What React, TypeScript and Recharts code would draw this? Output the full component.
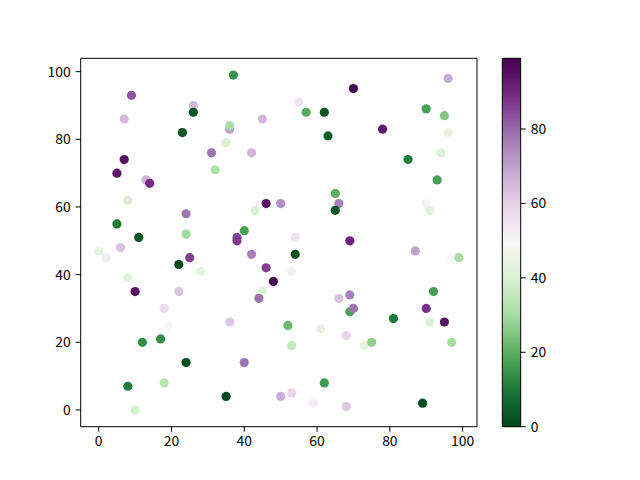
import { ScatterChart, Scatter, XAxis, YAxis, ReferenceArea, ComposedChart } from 'recharts';

// point positions and colour values
const xValues = [
  37, 9, 26, 26, 7, 45, 23, 36, 36, 35, 31, 42, 7, 5, 32, 13, 14, 8, 46, 50,
  43, 24, 5, 24, 40, 11,
  96, 70, 55, 57, 62, 90, 95, 78, 96, 63, 94, 85, 93, 65, 66, 65, 90, 91, 54, 69,
  54, 87, 97, 99, 53, 66, 69, 69, 70, 92, 90, 95, 91, 81, 52, 61, 68, 53, 73, 75,
  97, 62, 53, 59, 68, 89, 50,
  0, 2, 6, 25, 22, 28, 8, 10, 22, 18, 19, 12, 17, 36, 24, 40, 8, 18, 10, 35,
  38, 38, 42, 46, 48, 45, 44,
];
const yValues = [
  99, 93, 90, 88, 86, 86, 82, 83, 84, 79, 76, 76, 74, 70, 71, 68, 67, 62, 61, 61,
  59, 58, 55, 52, 53, 51,
  98, 95, 91, 88, 88, 89, 87, 83, 82, 81, 76, 74, 68, 64, 61, 59, 61, 59, 51, 50,
  46, 47, 45, 45, 41, 33, 34, 29, 30, 35, 30, 26, 26, 27, 25, 24, 22, 19, 19, 20,
  20, 8, 5, 2, 1, 2, 4,
  47, 45, 48, 45, 43, 41, 39, 35, 35, 30, 25, 20, 21, 26, 14, 14, 7, 8, 0, 4,
  51, 50, 46, 42, 38, 35, 33,
];
const cValues = [
  15, 83, 65, 3, 65, 65, 4, 70, 30, 40, 78, 66, 95, 94, 32, 66, 89, 40, 95, 73,
  40, 78, 10, 29, 17, 3,
  68, 98, 55, 19, 3, 17, 25, 93, 44, 5, 41, 11, 17, 20, 76, 3, 51, 42, 55, 91,
  2, 70, 50, 30, 47, 63, 76, 17, 78, 17, 88, 95, 41, 10, 22, 43, 59, 36, 44, 27,
  30, 16, 59, 52, 62, 2, 67,
  44, 53, 63, 86, 1, 44, 42, 94, 63, 57, 49, 14, 14, 62, 2, 78, 11, 33, 39, 1,
  85, 87, 76, 86, 97, 41, 78,
];

const axisTicks = [0, 20, 40, 60, 80, 100];
const colorbarTicks = [0, 20, 40, 60, 80];

// PRGn reversed (0 = green, max = purple)
const cmap = [
  '#00441b', '#1b7837', '#5aae61', '#a6dba0', '#d9f0d3', '#f7f7f7',
  '#e7d4e8', '#c2a5cf', '#9970ab', '#762a83', '#40004b',
];
const cMin = 0;
const cMax = 99;

const hex = (h: string) => [1, 3, 5].map((i) => parseInt(h.slice(i, i + 2), 16));

const colorFor = (v: number) => {
  const t = Math.min(1, Math.max(0, (v - cMin) / (cMax - cMin))) * (cmap.length - 1);
  const i = Math.min(cmap.length - 2, Math.floor(t));
  const f = t - i;
  const a = hex(cmap[i]);
  const b = hex(cmap[i + 1]);
  const rgb = a.map((av, k) => Math.round(av + (b[k] - av) * f));
  return `rgb(${rgb[0]},${rgb[1]},${rgb[2]})`;
};

const points = xValues.map((x, i) => ({ x, y: yValues[i], c: cValues[i] }));
const colorbarRange = [
  { x: 0, v: cMin },
  { x: 1, v: cMax },
];

const font = '"Noto Sans CJK SC", "Liberation Sans", sans-serif';
const tickStyle = { fontSize: 13.9, fill: '#000', fontFamily: font };

const Dot = (props: any) => {
  const { cx, cy, payload } = props;
  return <circle cx={cx} cy={cy} r={4.6} fill={colorFor(payload.c)} />;
};

const App = () => {
  return (
    <div style={{ position: 'absolute', left: 0, top: 0, width: 640, height: 480, background: '#fff' }}>
      <div style={{ position: 'absolute', left: 0, top: 0 }}>
        <ScatterChart
          width={640}
          height={480}
          margin={{ top: 58.3, right: 163, bottom: 23.3, left: 40.7 }}
        >
          <XAxis
            type="number"
            dataKey="x"
            domain={[-4.95, 103.95]}
            ticks={axisTicks}
            allowDataOverflow
            height={30}
            axisLine={false}
            tickSize={5}
            tickMargin={4}
            tickLine={{ stroke: '#000', strokeWidth: 1 }}
            tick={tickStyle}
          />
          <YAxis
            type="number"
            dataKey="y"
            domain={[-4.95, 103.95]}
            ticks={axisTicks}
            allowDataOverflow
            width={40}
            axisLine={false}
            tickSize={5}
            tickMargin={5}
            tickLine={{ stroke: '#000', strokeWidth: 1 }}
            tick={tickStyle}
          />
          <Scatter data={points} shape={Dot} isAnimationActive={false} />
          <ReferenceArea
            x1={-4.95}
            x2={103.95}
            y1={-4.95}
            y2={103.95}
            fill="none"
            fillOpacity={0}
            stroke="#000"
            strokeWidth={1}
            strokeOpacity={1}
          />
        </ScatterChart>
      </div>
      <div style={{ position: 'absolute', left: 0, top: 0 }}>
        <ComposedChart
          width={640}
          height={480}
          data={colorbarRange}
          margin={{ top: 58.3, right: 79.3, bottom: 53.3, left: 502.3 }}
        >
          <defs>
            <linearGradient id="cbar" x1="0" y1="1" x2="0" y2="0">
              {cmap.map((col, i) => (
                <stop key={i} offset={i / (cmap.length - 1)} stopColor={col} />
              ))}
            </linearGradient>
          </defs>
          <XAxis type="number" dataKey="x" domain={[0, 1]} allowDataOverflow hide />
          <YAxis
            type="number"
            dataKey="v"
            orientation="right"
            domain={[cMin, cMax]}
            ticks={colorbarTicks}
            allowDataOverflow
            width={40}
            axisLine={false}
            tickSize={5}
            tickMargin={5}
            tickLine={{ stroke: '#000', strokeWidth: 1 }}
            tick={tickStyle}
          />
          <ReferenceArea
            x1={0}
            x2={1}
            y1={cMin}
            y2={cMax}
            ifOverflow="visible"
            fill="url(#cbar)"
            fillOpacity={1}
            stroke="#000"
            strokeWidth={1}
            strokeOpacity={1}
          />
        </ComposedChart>
      </div>
    </div>
  );
};

export default App;
